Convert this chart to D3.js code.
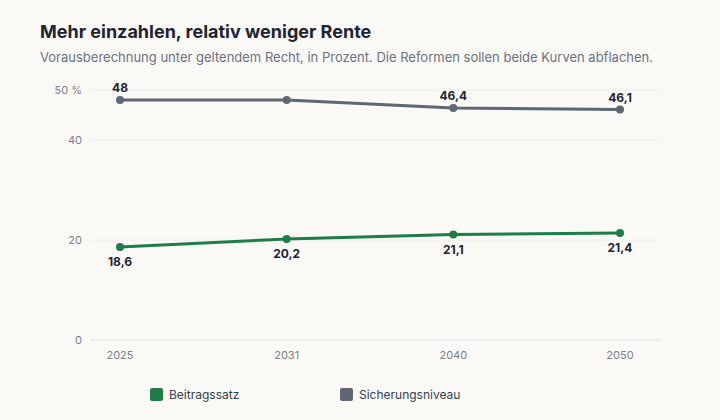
<!DOCTYPE html>
<html>
<head>
<meta charset="utf-8">
<script src="https://cdn.jsdelivr.net/npm/d3@7"></script>
<style>
  body { margin: 0; background: #faf9f6; font-family: Inter, "Noto Sans", sans-serif; }
</style>
</head>
<body>
<div id="chart"></div>
<script>
var years = ["2025", "2031", "2040", "2050"];
var beitragssatz = [18.6, 20.2, 21.1, 21.4];
var sicherungsniveau = [48, 48, 46.4, 46.1];
var beitragLabels = ["18,6", "20,2", "21,1", "21,4"];
var sicherungLabels = ["48", "", "46,4", "46,1"];
var yTicks = [0, 20, 40, 50];
var seriesNames = ["Beitragssatz", "Sicherungsniveau"];
var seriesColors = ["#1e7d47", "#5f6674"];

var width = 720, height = 420;
var svg = d3.select("#chart").append("svg")
  .attr("width", width).attr("height", height)
  .style("font-family", "Inter, 'Noto Sans', sans-serif");

svg.append("rect").attr("width", width).attr("height", height).attr("fill", "#faf9f6");

svg.append("text").attr("x", 40).attr("y", 38)
  .attr("font-size", 18).attr("font-weight", 700).attr("fill", "#1f2430")
  .text("Mehr einzahlen, relativ weniger Rente");
svg.append("text").attr("x", 40).attr("y", 62)
  .attr("font-size", 13).attr("fill", "#6b7180")
  .text("Vorausberechnung unter geltendem Recht, in Prozent. Die Reformen sollen beide Kurven abflachen.");

var x = d3.scalePoint().domain(years).range([120, 620]);
var y = d3.scaleLinear().domain([0, 50]).range([340, 90]);

// gridlines
svg.selectAll(".grid").data(yTicks).enter().append("line")
  .attr("x1", 90).attr("x2", 660)
  .attr("y1", function(d) { return y(d); })
  .attr("y2", function(d) { return y(d); })
  .attr("stroke", function(d) { return d == 0 ? "#e6e6e6" : "#eeeeec"; })
  .attr("stroke-width", function(d) { return d == 0 ? 1.5 : 1; });

svg.selectAll(".ytick").data(yTicks).enter().append("text")
  .attr("x", 82).attr("y", function(d) { return y(d) + 4; })
  .attr("text-anchor", "end").attr("font-size", 11).attr("fill", "#7a7f8a")
  .text(function(d) { return d == 50 ? "50 %" : d; });

svg.selectAll(".xtick").data(years).enter().append("text")
  .attr("x", function(d) { return x(d); }).attr("y", 359)
  .attr("text-anchor", "middle").attr("font-size", 11).attr("fill", "#7a7f8a")
  .text(function(d) { return d; });

var line = d3.line()
  .x(function(d, i) { return x(years[i]); })
  .y(function(d) { return y(d); });

function drawSeries(values, color, labels, above) {
  svg.append("path").datum(values)
    .attr("d", line).attr("fill", "none")
    .attr("stroke", color).attr("stroke-width", 3);
  svg.selectAll(null).data(values).enter().append("circle")
    .attr("cx", function(d, i) { return x(years[i]); })
    .attr("cy", function(d) { return y(d); })
    .attr("r", 4).attr("fill", color);
  svg.selectAll(null).data(values).enter().append("text")
    .attr("x", function(d, i) { return x(years[i]); })
    .attr("y", function(d) { return above ? y(d) - 8 : y(d) + 19; })
    .attr("text-anchor", "middle").attr("font-size", 12).attr("font-weight", 700)
    .attr("fill", "#1f2430")
    .text(function(d, i) { return labels[i]; });
}

drawSeries(sicherungsniveau, seriesColors[1], sicherungLabels, true);
drawSeries(beitragssatz, seriesColors[0], beitragLabels, false);

// Legend
var legend = svg.selectAll(".legend").data(seriesNames).enter().append("g")
  .attr("transform", function(d, i) { return "translate(" + (150 + i * 190) + ",388)"; });
legend.append("rect").attr("width", 13).attr("height", 13).attr("rx", 2)
  .attr("fill", function(d, i) { return seriesColors[i]; });
legend.append("text").attr("x", 19).attr("y", 11)
  .attr("font-size", 12).attr("fill", "#374050")
  .text(function(d) { return d; });
</script>
</body>
</html>
